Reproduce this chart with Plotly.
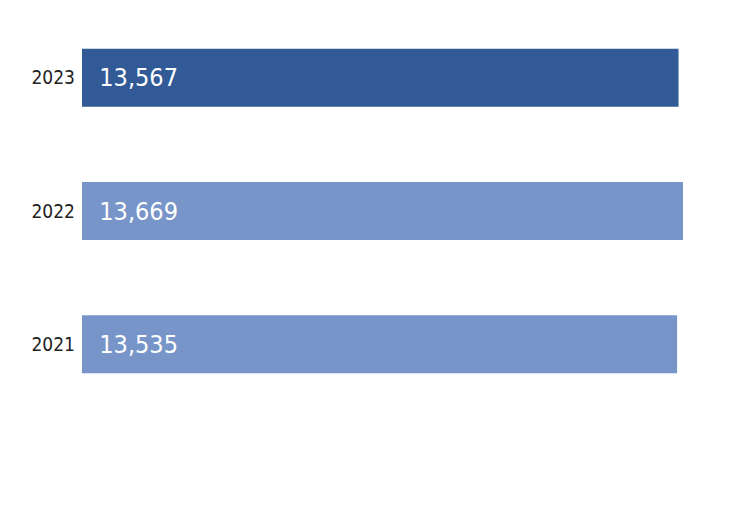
import plotly.graph_objects as go

years = ["2021", "2022", "2023"]
values = [13535, 13669, 13567]
colors = ["#7795c8", "#7795c8", "#325a97"]
font_family = "Liberation Sans Narrow, DejaVu Sans Condensed, Arial Narrow, sans-serif"

fig = go.Figure(go.Bar(
    x=values, y=years, orientation="h",
    marker=dict(color=colors, line=dict(width=0)),
    width=0.435,
    text=[f"  {v:,}" for v in values],
    textposition="inside", insidetextanchor="start",
    textfont=dict(color="white", size=25, family=font_family),
    cliponaxis=False,
))
fig.update_layout(
    width=750, height=531,
    margin=dict(l=74, r=75, t=3, b=128),
    plot_bgcolor="white", paper_bgcolor="white",
    showlegend=False, uniformtext=dict(minsize=25, mode="show"),
)
fig.update_xaxes(range=[0, 13669], visible=False)
fig.update_yaxes(range=[-0.5, 2.5], showgrid=False, showline=False, ticks="",
                 ticklabelstandoff=6,
                 tickfont=dict(size=19, color="#222", family=font_family))
fig.write_html("out.html")
